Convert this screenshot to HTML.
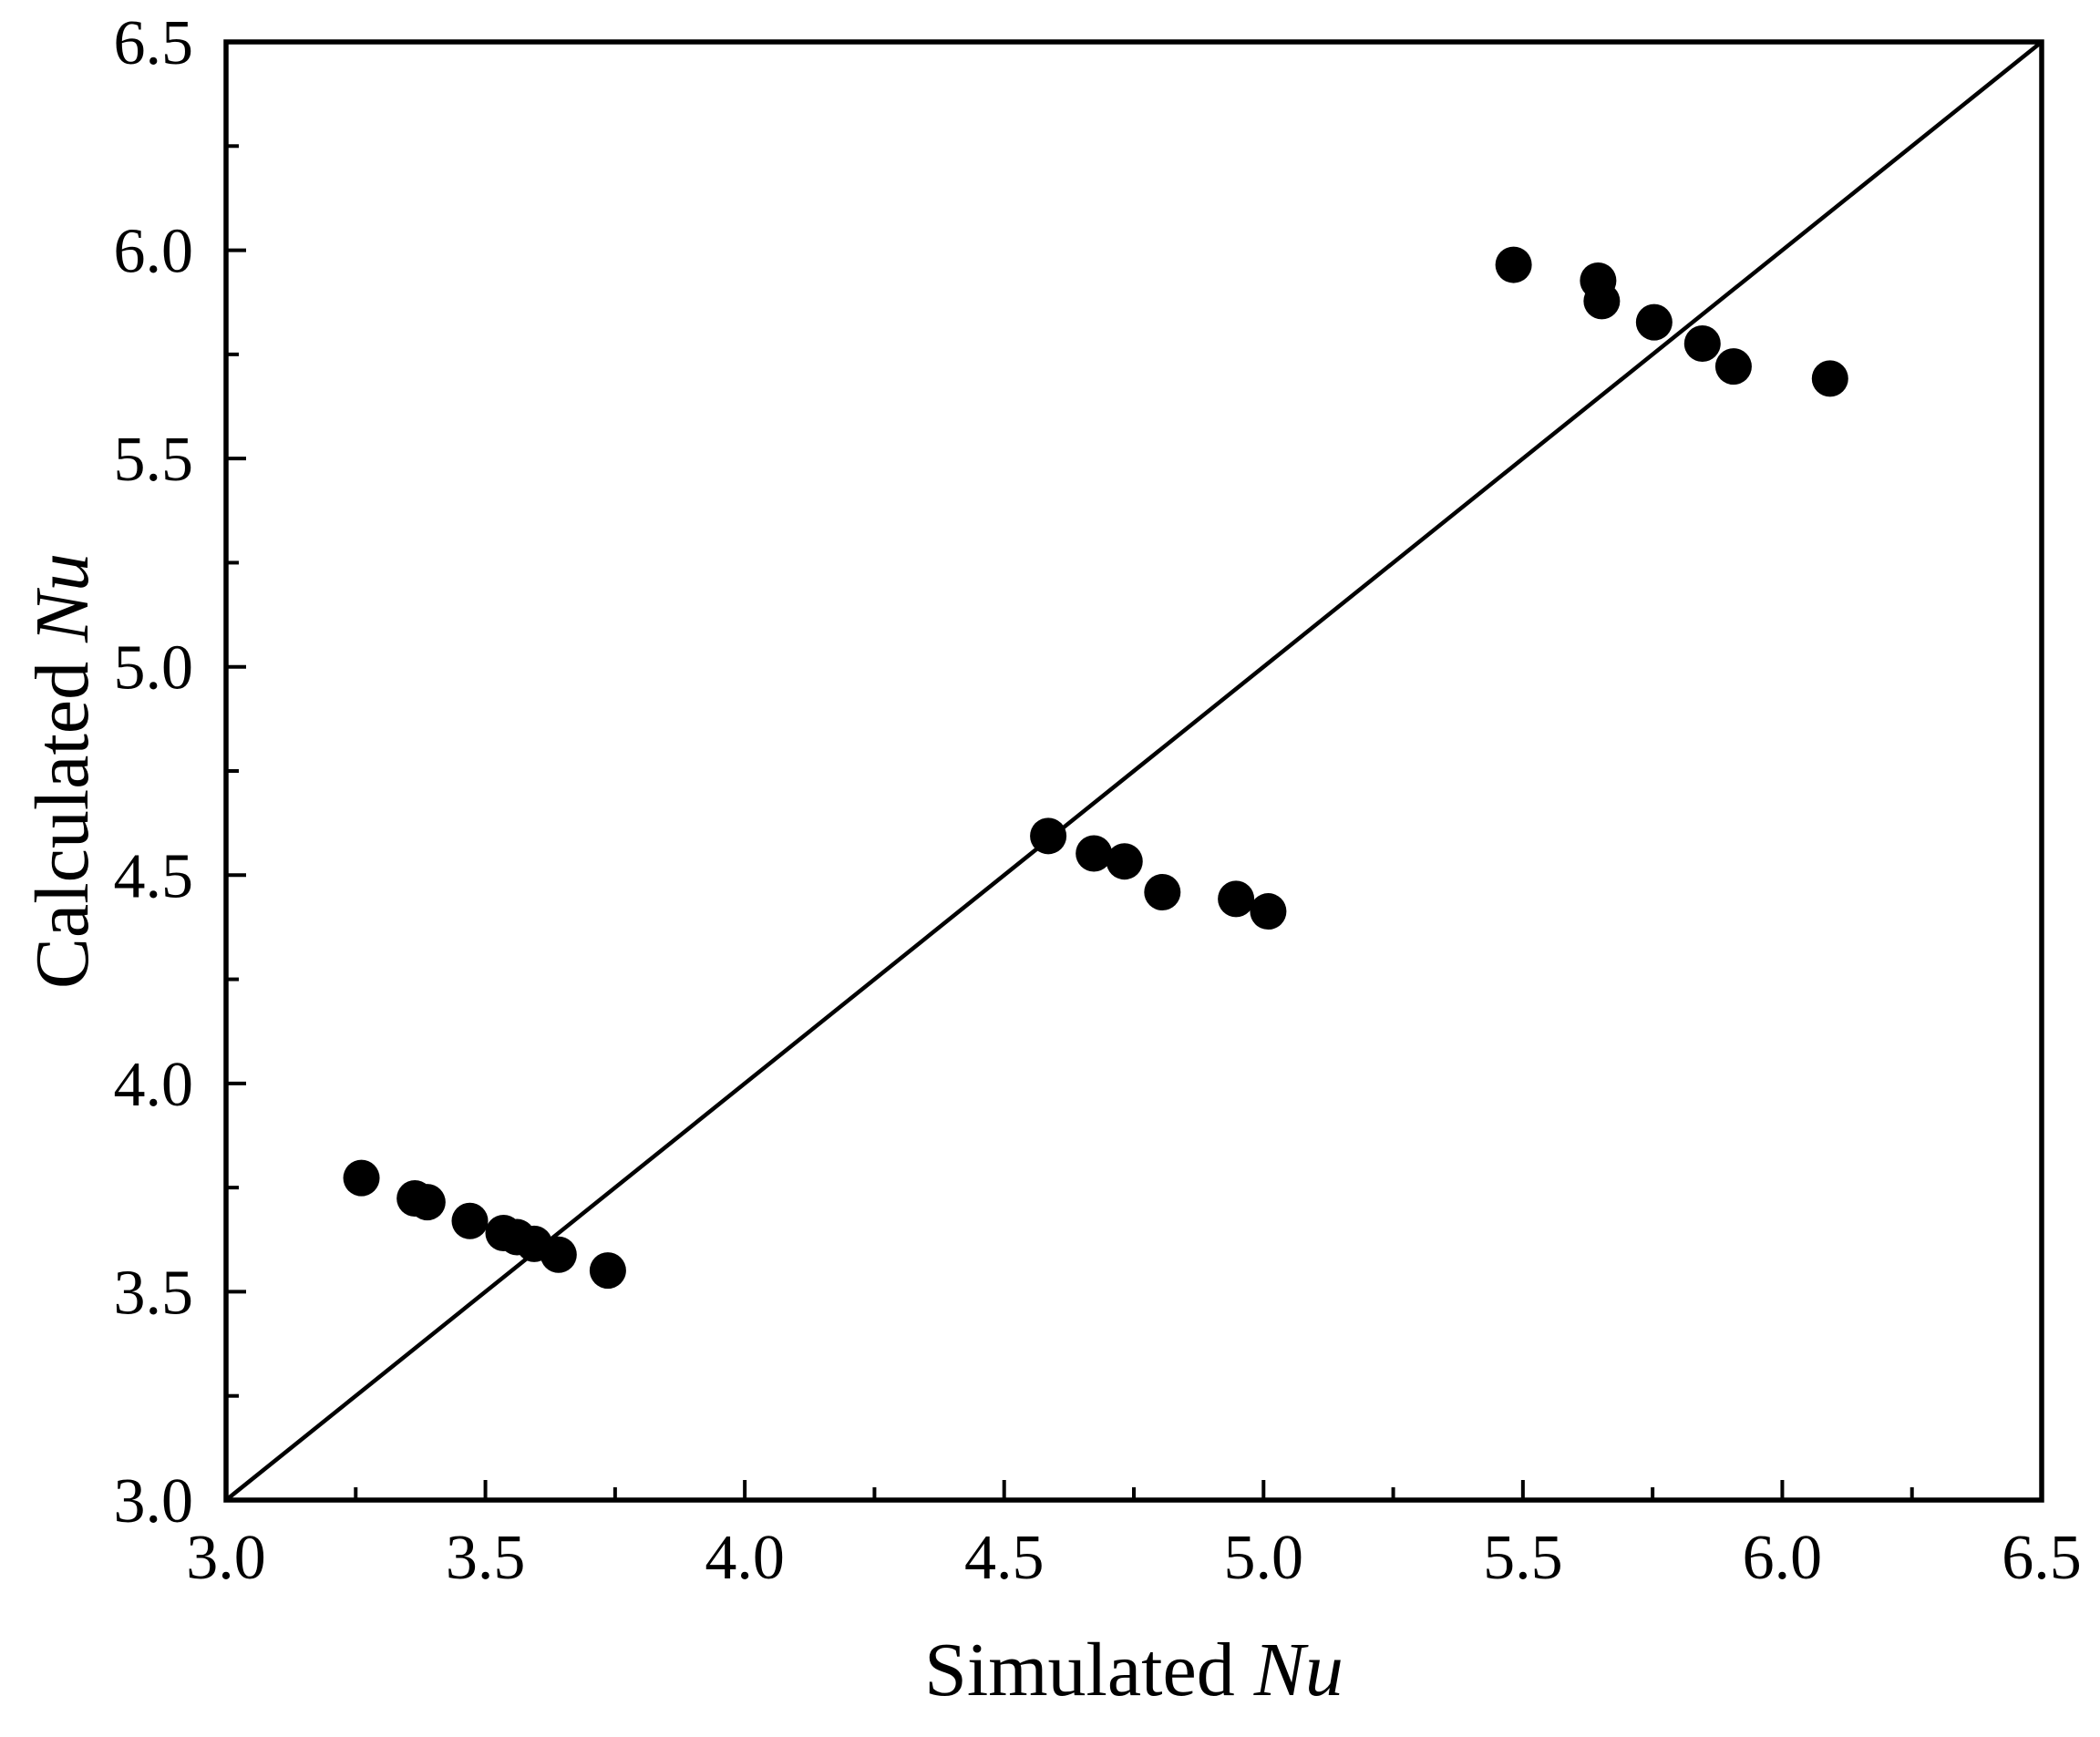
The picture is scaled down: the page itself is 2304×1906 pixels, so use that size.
<!DOCTYPE html>
<html><head><meta charset="utf-8"><style>
html,body{margin:0;padding:0;background:#fff;}
svg text{font-family:"Liberation Serif",serif;fill:#000;}
</style></head><body>
<svg id="chart" width="2304" height="1901" viewBox="0 0 2304 1901" xmlns="http://www.w3.org/2000/svg">
<g id="marks"></g>
</svg>
<script>
const xs = [3.261,3.364,3.388,3.470,3.535,3.561,3.594,3.641,3.736,4.585,4.673,4.732,4.805,4.947,5.009,5.482,5.645,5.652,5.753,5.846,5.906,6.092];
const ys = [3.773,3.724,3.715,3.670,3.641,3.631,3.615,3.589,3.551,4.594,4.552,4.533,4.459,4.443,4.413,5.965,5.927,5.878,5.827,5.776,5.721,5.692];
const xTicks = ["3.0","3.5","4.0","4.5","5.0","5.5","6.0","6.5"];
const yTicks = ["3.0","3.5","4.0","4.5","5.0","5.5","6.0","6.5"];
const L=248,R=2240,T=46,B=1646,MIN=3,MAX=6.5;
const sx=v=>L+(v-MIN)/(MAX-MIN)*(R-L);
const sy=v=>B-(v-MIN)/(MAX-MIN)*(B-T);
const NS="http://www.w3.org/2000/svg";
const g=document.getElementById('marks');
function mk(t,a){const e=document.createElementNS(NS,t);for(const k in a)e.setAttribute(k,a[k]);g.appendChild(e);return e;}
let d=mk('line',{x1:sx(MIN),y1:sy(MIN),x2:sx(MAX),y2:sy(MAX),stroke:'#000','stroke-width':4.5});


for(let i=0;i<=14;i++){
  const v=MIN+i*0.25, len=(i%2==0)?22:14;
  let t1=mk('line',{x1:sx(v),y1:B,x2:sx(v),y2:B-len,stroke:'#000','stroke-width':4});
  
  
  let t2=mk('line',{x1:L,y1:sy(v),x2:L+len,y2:sy(v),stroke:'#000','stroke-width':4});
  
  
}
xTicks.forEach(s=>{
  let t=mk('text',{x:sx(parseFloat(s)),y:1732,'font-size':70,'text-anchor':'middle'});
  t.textContent=s;
  
  
});
yTicks.forEach(s=>{
  let t=mk('text',{x:212,y:sy(parseFloat(s))+24,'font-size':70,'text-anchor':'end'});
  t.textContent=s;
  
  
});
let f=mk('rect',{x:L,y:T,width:R-L,height:B-T,fill:'none',stroke:'#000','stroke-width':5.5});


xs.forEach((x,i)=>{
  let c=mk('circle',{cx:sx(x),cy:sy(ys[i]),r:20,fill:'#000'});
  
  
});
let xt=mk('text',{x:1244,y:1860,'font-size':84,'text-anchor':'middle'});
xt.innerHTML='Simulated <tspan font-style="italic">Nu</tspan>';


let yt=mk('text',{x:0,y:0,'font-size':84,'text-anchor':'middle',transform:'translate(96,846) rotate(-90)'});
yt.innerHTML='Calculated <tspan font-style="italic">Nu</tspan>';


</script>
</body></html>
